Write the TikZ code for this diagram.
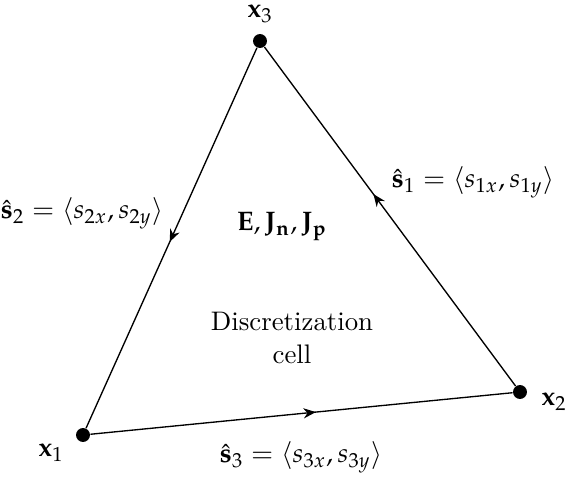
\documentclass[tikz,border=0pt]{standalone}
\usepackage{mathpazo}
\usepackage{amsmath}
\usetikzlibrary{arrows.meta,decorations.markings}
\tikzset{
  vertex/.style={circle, fill=black, inner sep=0pt, minimum size=5.2pt},
  edge/.style={line width=0.5pt},
  midarrow/.style={postaction={decorate}, decoration={markings,
    mark=at position #1 with {\arrow{Stealth[length=4.6pt,width=3.8pt]}}}}
}
\begin{document}
\begin{tikzpicture}[x=0.0131cm, y=-0.0131cm]
  \useasboundingbox (0,0) rectangle (565,477);
  \node[vertex] (v1) at (83,435) {};
  \node[vertex] (v2) at (520,392) {};
  \node[vertex] (v3) at (260,41) {};
  \node[anchor=base] (l1) at (51,457) {$\mathbf{x}_1$};
  \node[anchor=base] (l2) at (554,406) {$\mathbf{x}_2$};
  \node[anchor=base] (l3) at (260,18) {$\mathbf{x}_3$};
  \draw[edge, midarrow=0.51] (v3) -- (v1);
  \draw[edge, midarrow=0.566] (v2) -- (v3);
  \draw[edge, midarrow=0.534] (v1) -- (v2);
  \node[anchor=base] (s1) at (473,188) {$\hat{\mathbf{s}}_1 = \langle s_{1x}, s_{1y}\rangle$};
  \node[anchor=base] (s2) at (82,219) {$\hat{\mathbf{s}}_2 = \langle s_{2x}, s_{2y}\rangle$};
  \node[anchor=base] (s3) at (301,463) {$\hat{\mathbf{s}}_3 = \langle s_{3x}, s_{3y}\rangle$};
  \node[anchor=base] (fields) at (282,231) {$\mathbf{E}, \mathbf{J_n}, \mathbf{J_p}$};
  \node[align=center] (cell) at (292,338) {Discretization\\cell};
\end{tikzpicture}
\end{document}
